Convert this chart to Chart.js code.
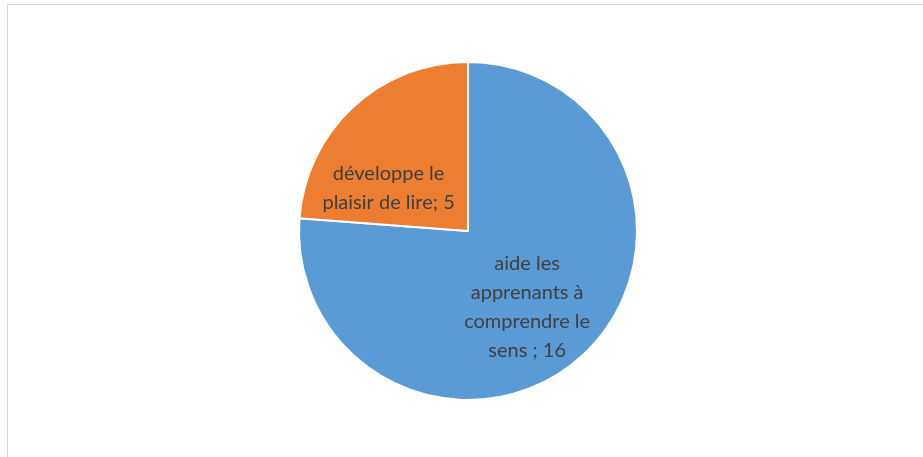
<!DOCTYPE html>
<html>
<head>
<meta charset="utf-8">
<script src="https://cdn.jsdelivr.net/npm/chart.js@4"></script>
<style>
  html, body { margin: 0; padding: 0; background: #fff; }
  #wrap { position: absolute; left: 0; top: 0; width: 923px; height: 457px; }
  #frame { position: absolute; left: 7px; top: 4px; width: 930px; height: 470px;
           border: 1px solid #d9d9d9; box-sizing: border-box; }
</style>
</head>
<body>
<div id="wrap">
  <div id="frame"></div>
  <canvas id="chart" width="923" height="457"></canvas>
</div>
<script>
// Data
const categories = ['aide les apprenants à comprendre le sens', 'développe le plaisir de lire'];
const values = [16, 5];
const colors = ['#5B9BD5', '#ED7D31'];
// label text as shown in the picture (line breaks as Excel wrapped them)
const labelLines = [
  ['aide les', 'apprenants à', 'comprendre le', 'sens ; 16'],
  ['développe le', 'plaisir de lire; 5']
];

/* ── Inside labels, positioned relative to each arc ── */
const insideLabels = {
  id: 'insideLabels',
  afterDatasetsDraw(chart, args, opts) {
    const ctx = chart.ctx;
    const meta = chart.getDatasetMeta(0);
    ctx.save();
    ctx.font = opts.font;
    ctx.fillStyle = opts.color;
    ctx.textAlign = 'center';
    ctx.textBaseline = 'middle';
    meta.data.forEach((arc, i) => {
      const p = arc.getProps(['x', 'y', 'outerRadius'], true);
      const off = opts.offsets[i];
      const cx = p.x + off[0] * p.outerRadius;
      const cy = p.y + off[1] * p.outerRadius;
      const lines = labelLines[i];
      const lh = opts.lineHeight;
      lines.forEach((line, j) => {
        ctx.fillText(line, cx, cy + (j - (lines.length - 1) / 2) * lh);
      });
    });
    ctx.restore();
  }
};

new Chart(document.getElementById('chart'), {
  type: 'pie',
  data: {
    labels: categories,
    datasets: [{
      data: values,
      backgroundColor: colors,
      borderColor: '#ffffff',
      borderWidth: 2
    }]
  },
  options: {
    responsive: false,
    animation: false,
    layout: { padding: { left: 298, right: 285, top: 61, bottom: 56 } },
    plugins: {
      legend: { display: false },
      tooltip: { enabled: false },
      insideLabels: {
        font: '20px Lato',
        color: '#404040',
        lineHeight: 29,
        offsets: [[0.35, 0.45], [-0.47, -0.255]]
      }
    }
  },
  plugins: [insideLabels]
});
</script>
</body>
</html>
